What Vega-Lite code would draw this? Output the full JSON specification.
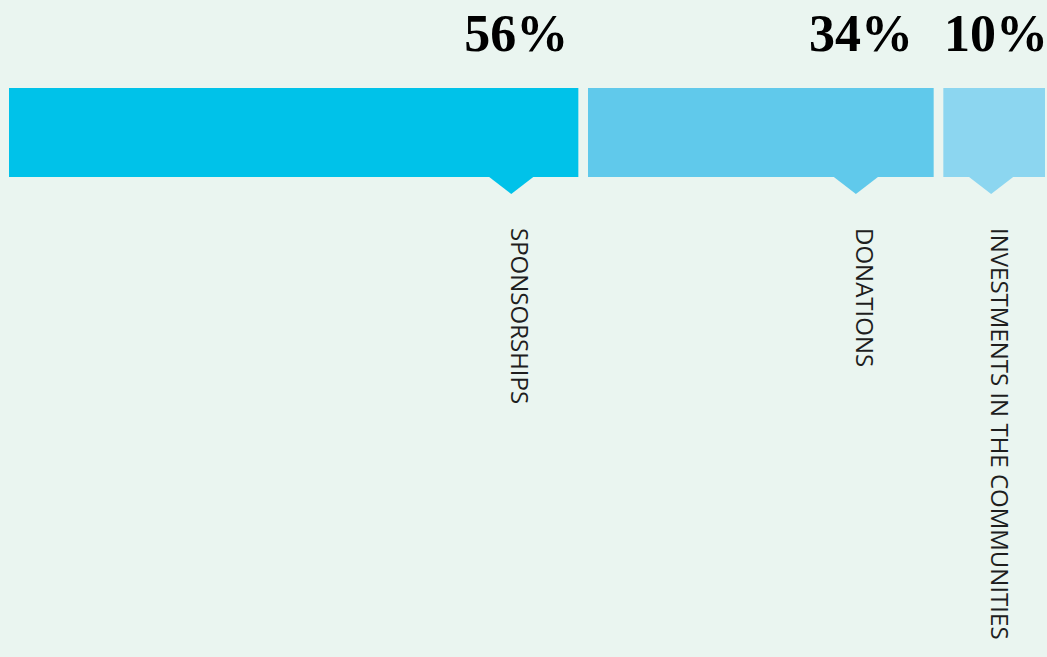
{
  "$schema": "https://vega.github.io/schema/vega-lite/v6.json",
  "width": 1047,
  "height": 657,
  "autosize": {"type": "none"},
  "padding": 0,
  "background": "#EAF5F0",
  "view": {"stroke": null},
  "data": {"values": [
    {"category": "SPONSORSHIPS", "pct": 56, "anchor": 49.4},
    {"category": "DONATIONS", "pct": 34, "anchor": 83.3},
    {"category": "INVESTMENTS IN THE COMMUNITIES", "pct": 10, "anchor": 96.6}
  ]},
  "transform": [
    {"window": [{"op": "sum", "field": "pct", "as": "cum"}, {"op": "row_number", "as": "idx"}], "frame": [null, 0]},
    {"calculate": "datum.cum - datum.pct + (datum.idx - 1) * 0.95", "as": "start"},
    {"calculate": "datum.cum + (datum.idx - 1) * 0.95", "as": "end"},
    {"calculate": "datum.pct + '%'", "as": "label"}
  ],
  "layer": [
    {
      "mark": {"type": "bar", "cornerRadius": 0},
      "encoding": {
        "x": {"field": "start", "type": "quantitative", "scale": {"domain": [0, 101.9], "range": [9, 1045]}, "axis": null},
        "x2": {"field": "end"},
        "y": {"value": 88},
        "y2": {"value": 177},
        "color": {"field": "category", "type": "nominal", "scale": {"domain": ["SPONSORSHIPS", "DONATIONS", "INVESTMENTS IN THE COMMUNITIES"], "range": ["#00C2E9", "#60C9EB", "#8CD6F0"]}, "legend": null}
      }
    },
    {
      "mark": {"type": "point", "filled": true, "opacity": 1, "shape": "M-1,-0.06L1,-0.06L0,0.71Z", "size": 2304, "strokeWidth": 0},
      "encoding": {
        "x": {"field": "anchor", "type": "quantitative", "scale": {"domain": [0, 101.9], "range": [9, 1045]}, "axis": null},
        "y": {"value": 177},
        "color": {"field": "category", "type": "nominal", "scale": {"domain": ["SPONSORSHIPS", "DONATIONS", "INVESTMENTS IN THE COMMUNITIES"], "range": ["#00C2E9", "#60C9EB", "#8CD6F0"]}, "legend": null}
      }
    },
    {
      "mark": {"type": "text", "font": "Liberation Serif", "fontWeight": "bold", "fontSize": 52, "align": "center", "baseline": "alphabetic", "dx": 5, "color": "#000000"},
      "encoding": {
        "x": {"field": "anchor", "type": "quantitative", "scale": {"domain": [0, 101.9], "range": [9, 1045]}, "axis": null},
        "y": {"value": 51},
        "text": {"field": "label"}
      }
    },
    {
      "mark": {"type": "text", "font": "Open Sans", "fontWeight": "normal", "fontSize": 24, "angle": 90, "align": "left", "baseline": "alphabetic", "color": "#1E1E1E"},
      "encoding": {
        "x": {"field": "anchor", "type": "quantitative", "scale": {"domain": [0, 101.9], "range": [9, 1045]}, "axis": null},
        "y": {"value": 228},
        "text": {"field": "category"}
      }
    }
  ]
}
